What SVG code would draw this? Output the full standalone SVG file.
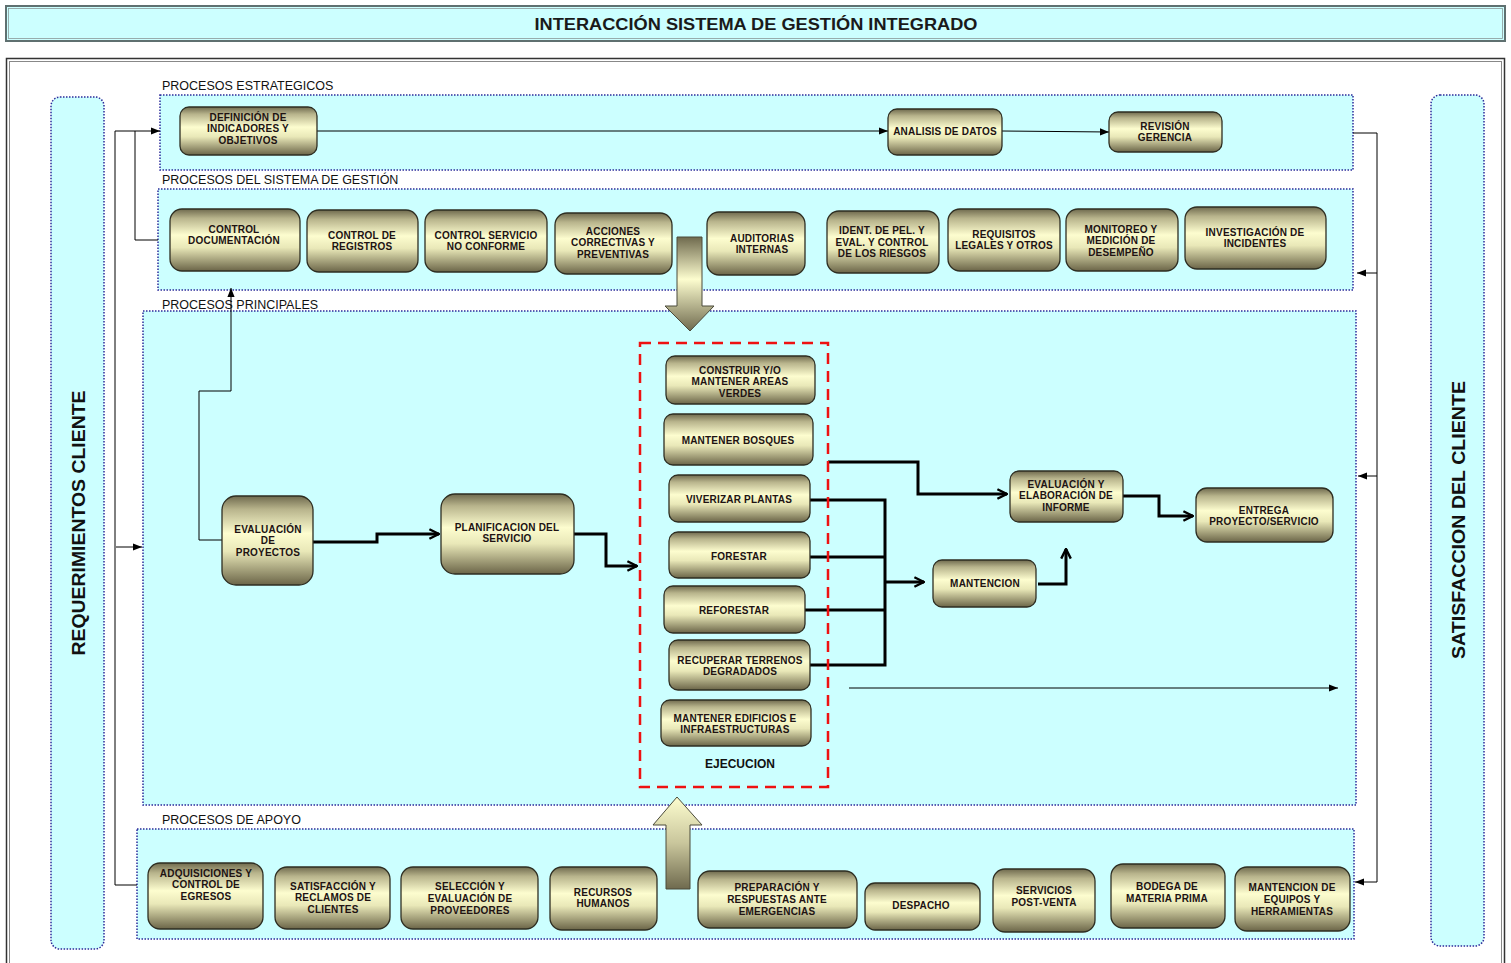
<svg xmlns="http://www.w3.org/2000/svg" width="1511" height="963" viewBox="0 0 1511 963">
<defs>
<linearGradient id="ng" x1="0" y1="0" x2="0" y2="1">
<stop offset="0" stop-color="#6f6a4e"/>
<stop offset="0.15" stop-color="#b8b48c"/>
<stop offset="0.42" stop-color="#fdfdcf"/>
<stop offset="0.62" stop-color="#e9e8b8"/>
<stop offset="1" stop-color="#6b6548"/>
</linearGradient>
<linearGradient id="ag" x1="0" y1="0" x2="0" y2="1">
<stop offset="0" stop-color="#6f6a4e"/>
<stop offset="0.45" stop-color="#fdfdcf"/>
<stop offset="1" stop-color="#6f6a4e"/>
</linearGradient>
<linearGradient id="ag2" x1="0" y1="0" x2="0" y2="1">
<stop offset="0" stop-color="#fdfdcf"/>
<stop offset="0.5" stop-color="#c9c69c"/>
<stop offset="1" stop-color="#6f6a4e"/>
</linearGradient>
<marker id="chev" viewBox="0 0 10 10" refX="9" refY="5" markerWidth="4" markerHeight="4" markerUnits="strokeWidth" orient="auto">
<path d="M1,1 L9,5 L1,9" fill="none" stroke="#000" stroke-width="2"/>
</marker>
<marker id="tri" viewBox="0 0 10 10" refX="10" refY="5" markerWidth="9" markerHeight="9" markerUnits="userSpaceOnUse" orient="auto">
<path d="M0,1 L10,5 L0,9 Z" fill="#000"/>
</marker>
</defs>
<style>
.panel{fill:#ccffff;stroke:#2b2b9a;stroke-width:1.5;stroke-dasharray:1.5 1.5}
.node{fill:url(#ng);stroke:#2e2e22;stroke-width:1.3}
.nt{font-family:"Liberation Sans",Arial,sans-serif;font-size:10px;font-weight:bold;fill:#201212;text-anchor:middle;letter-spacing:0.2px}
.sec{font-family:"Liberation Sans",Arial,sans-serif;font-size:12.5px;fill:#111}
.thick{fill:none;stroke:#000;stroke-width:3;marker-end:url(#chev)}
.thin{fill:none;stroke:#000;stroke-width:1}
.thinA{fill:none;stroke:#000;stroke-width:1;marker-end:url(#tri)}
</style>
<rect width="1511" height="963" fill="#ffffff"/>
<!-- title -->
<g id="title">
<rect x="6" y="6" width="1499" height="35" fill="#ccffff" stroke="#5f7070" stroke-width="2"/>
<rect x="8.5" y="8.5" width="1494" height="30" fill="none" stroke="#8a9a9a" stroke-width="0.8"/>
<text x="756" y="30" font-family="Liberation Sans, Arial, sans-serif" font-size="16.5" font-weight="bold" text-anchor="middle" fill="#1a1a1a" textLength="443" lengthAdjust="spacingAndGlyphs">INTERACCIÓN SISTEMA DE GESTIÓN INTEGRADO</text>
</g>
<!-- outer frame -->
<rect x="6.5" y="58.5" width="1498" height="920" fill="none" stroke="#333" stroke-width="1.5"/>
<rect x="9.5" y="61.5" width="1492" height="920" fill="none" stroke="#888" stroke-width="1"/>
<!-- pillars -->
<g id="req-cliente">
<rect class="panel" x="51" y="97" width="53" height="852" rx="9"/>
<text transform="translate(85,523) rotate(-90)" font-family="Liberation Sans, Arial, sans-serif" font-size="18" font-weight="bold" text-anchor="middle" fill="#111" textLength="265" lengthAdjust="spacingAndGlyphs">REQUERIMIENTOS CLIENTE</text>
</g>
<g id="sat-cliente">
<rect class="panel" x="1431" y="95" width="53" height="851" rx="9"/>
<text transform="translate(1465,520) rotate(-90)" font-family="Liberation Sans, Arial, sans-serif" font-size="18" font-weight="bold" text-anchor="middle" fill="#111" textLength="278" lengthAdjust="spacingAndGlyphs">SATISFACCION DEL CLIENTE</text>
</g>
<!-- panels -->
<g id="p-estrategicos">
<rect class="panel" x="160" y="95" width="1193" height="75"/>
<text class="sec" x="162" y="90">PROCESOS ESTRATEGICOS</text>
</g>
<g id="p-sg">
<rect class="panel" x="158" y="189" width="1195" height="101"/>
<text class="sec" x="162" y="184">PROCESOS DEL SISTEMA DE GESTIÓN</text>
</g>
<g id="p-principales">
<rect class="panel" x="143" y="311" width="1213" height="494"/>
<text class="sec" x="162" y="309">PROCESOS PRINCIPALES</text>
</g>
<g id="p-apoyo">
<rect class="panel" x="137" y="829" width="1217" height="110"/>
<text class="sec" x="162" y="824">PROCESOS DE APOYO</text>
</g>
<!-- big arrows -->
<g id="arrow-down">
<path d="M677,237 H702 V306 H714 L690,331 L665,306 H677 Z" fill="url(#ag)" stroke="#4a4a3a" stroke-width="1"/>
</g>
<g id="arrow-up">
<path d="M666,889 H690 V825 H702 L677,797 L653,825 H666 Z" fill="url(#ag2)" stroke="#4a4a3a" stroke-width="1"/>
</g>
<!-- connectors -->
<g id="connectors">
<line class="thinA" x1="317" y1="131" x2="888" y2="131" stroke="#4a6a6a"/>
<line class="thinA" x1="1002" y1="131" x2="1109" y2="132"/>
<path class="thinA" d="M115,885 V131 H160"/>
<path class="thin" d="M115,885 H137"/>
<path class="thin" d="M135,131 V240 H158"/>
<line class="thinA" x1="116" y1="547" x2="142" y2="547"/>
<path class="thin" d="M1353,133 H1377 V882" stroke="#555" stroke-width="1.5"/>
<line class="thinA" x1="1377" y1="882" x2="1355" y2="882"/>
<line class="thinA" x1="1377" y1="273" x2="1357" y2="273"/>
<line class="thinA" x1="1377" y1="476" x2="1358" y2="476"/>
<path class="thinA" d="M222,540 H199 V391 H231 V288"/>
<line class="thinA" x1="849" y1="688" x2="1338" y2="688"/>
<path class="thick" d="M313,542 H377 V534 H439"/>
<path class="thick" d="M574,534 H606 V566 H637"/>
<path class="thick" d="M828,462 H918 V494 H1007"/>
<path fill="none" stroke="#000" stroke-width="3" d="M810,500 H885 V665 H810 M810,557 H885 M805,610 H885"/>
<path class="thick" d="M885,582 H924"/>
<path class="thick" d="M1038,584 H1066 V549"/>
<path class="thick" d="M1123,496 H1159 V516 H1193"/>
</g>
<!-- ejecucion box -->
<g id="ejecucion">
<rect x="640" y="343" width="188" height="444" fill="none" stroke="#ee1111" stroke-width="2.5" stroke-dasharray="11 7"/>
<text x="740" y="768" font-family="Liberation Sans, Arial, sans-serif" font-size="12" font-weight="bold" text-anchor="middle" fill="#111">EJECUCION</text>
</g>
<!-- strategic nodes -->
<g id="n-definicion"><rect class="node" x="180" y="107" width="137" height="48" rx="9"/><text class="nt" x="248" y="121">DEFINICIÓN DE</text><text class="nt" x="248" y="132">INDICADORES Y</text><text class="nt" x="248" y="144">OBJETIVOS</text></g>
<g id="n-analisis"><rect class="node" x="888" y="109" width="114" height="46" rx="9"/><text class="nt" x="945" y="135">ANALISIS DE DATOS</text></g>
<g id="n-revision"><rect class="node" x="1109" y="112" width="113" height="40" rx="9"/><text class="nt" x="1165" y="130">REVISIÓN</text><text class="nt" x="1165" y="141">GERENCIA</text></g>
<!-- SG nodes -->
<g id="n-ctrl-doc"><rect class="node" x="170" y="209" width="130" height="62" rx="12"/><text class="nt" x="234" y="233">CONTROL</text><text class="nt" x="234" y="244">DOCUMENTACIÓN</text></g>
<g id="n-ctrl-reg"><rect class="node" x="307" y="210" width="111" height="62" rx="12"/><text class="nt" x="362" y="239">CONTROL DE</text><text class="nt" x="362" y="250">REGISTROS</text></g>
<g id="n-ctrl-serv"><rect class="node" x="425" y="210" width="122" height="62" rx="12"/><text class="nt" x="486" y="239">CONTROL SERVICIO</text><text class="nt" x="486" y="250">NO CONFORME</text></g>
<g id="n-acciones"><rect class="node" x="555" y="213" width="117" height="61" rx="12"/><text class="nt" x="613" y="235">ACCIONES</text><text class="nt" x="613" y="246">CORRECTIVAS Y</text><text class="nt" x="613" y="258">PREVENTIVAS</text></g>
<g id="n-auditorias"><rect class="node" x="707" y="212" width="98" height="63" rx="12"/><text class="nt" x="762" y="242">AUDITORIAS</text><text class="nt" x="762" y="253">INTERNAS</text></g>
<g id="n-ident"><rect class="node" x="827" y="211" width="112" height="62" rx="12"/><text class="nt" x="882" y="234">IDENT. DE PEL. Y</text><text class="nt" x="882" y="246">EVAL. Y CONTROL</text><text class="nt" x="882" y="257">DE LOS RIESGOS</text></g>
<g id="n-requisitos"><rect class="node" x="948" y="209" width="112" height="62" rx="12"/><text class="nt" x="1004" y="238">REQUISITOS</text><text class="nt" x="1004" y="249">LEGALES Y OTROS</text></g>
<g id="n-monitoreo"><rect class="node" x="1066" y="209" width="112" height="62" rx="12"/><text class="nt" x="1121" y="233">MONITOREO Y</text><text class="nt" x="1121" y="244">MEDICIÓN DE</text><text class="nt" x="1121" y="256">DESEMPEÑO</text></g>
<g id="n-investigacion"><rect class="node" x="1185" y="207" width="141" height="62" rx="12"/><text class="nt" x="1255" y="236">INVESTIGACIÓN DE</text><text class="nt" x="1255" y="247">INCIDENTES</text></g>
<!-- principal nodes -->
<g id="n-eval-proy"><rect class="node" x="222" y="496" width="91" height="89" rx="14"/><text class="nt" x="268" y="533">EVALUACIÓN</text><text class="nt" x="268" y="544">DE</text><text class="nt" x="268" y="556">PROYECTOS</text></g>
<g id="n-planif"><rect class="node" x="441" y="494" width="133" height="80" rx="14"/><text class="nt" x="507" y="531">PLANIFICACION DEL</text><text class="nt" x="507" y="542">SERVICIO</text></g>
<g id="n-construir"><rect class="node" x="666" y="356" width="149" height="48" rx="9"/><text class="nt" x="740" y="374">CONSTRUIR Y/O</text><text class="nt" x="740" y="385">MANTENER AREAS</text><text class="nt" x="740" y="397">VERDES</text></g>
<g id="n-bosques"><rect class="node" x="664" y="414" width="149" height="51" rx="9"/><text class="nt" x="738" y="444">MANTENER  BOSQUES</text></g>
<g id="n-viverizar"><rect class="node" x="669" y="475" width="141" height="47" rx="9"/><text class="nt" x="739" y="503">VIVERIZAR PLANTAS</text></g>
<g id="n-forestar"><rect class="node" x="669" y="532" width="141" height="46" rx="9"/><text class="nt" x="739" y="560">FORESTAR</text></g>
<g id="n-reforestar"><rect class="node" x="664" y="586" width="141" height="47" rx="9"/><text class="nt" x="734" y="614">REFORESTAR</text></g>
<g id="n-recuperar"><rect class="node" x="669" y="640" width="141" height="50" rx="9"/><text class="nt" x="740" y="664">RECUPERAR TERRENOS</text><text class="nt" x="740" y="675">DEGRADADOS</text></g>
<g id="n-edificios"><rect class="node" x="661" y="700" width="150" height="46" rx="9"/><text class="nt" x="735" y="722">MANTENER EDIFICIOS E</text><text class="nt" x="735" y="733">INFRAESTRUCTURAS</text></g>
<g id="n-eval-inf"><rect class="node" x="1010" y="471" width="113" height="51" rx="9"/><text class="nt" x="1066" y="488">EVALUACIÓN Y</text><text class="nt" x="1066" y="499">ELABORACIÓN DE</text><text class="nt" x="1066" y="511">INFORME</text></g>
<g id="n-entrega"><rect class="node" x="1196" y="488" width="137" height="54" rx="11"/><text class="nt" x="1264" y="514">ENTREGA</text><text class="nt" x="1264" y="525">PROYECTO/SERVICIO</text></g>
<g id="n-mantencion"><rect class="node" x="933" y="560" width="103" height="47" rx="9"/><text class="nt" x="985" y="587">MANTENCION</text></g>
<!-- apoyo nodes -->
<g id="n-adquisiciones"><rect class="node" x="148" y="863" width="115" height="66" rx="12"/><text class="nt" x="206" y="877">ADQUISICIONES Y</text><text class="nt" x="206" y="888">CONTROL DE</text><text class="nt" x="206" y="900">EGRESOS</text></g>
<g id="n-satisfaccion"><rect class="node" x="275" y="867" width="115" height="62" rx="12"/><text class="nt" x="333" y="890">SATISFACCIÓN Y</text><text class="nt" x="333" y="901">RECLAMOS DE</text><text class="nt" x="333" y="913">CLIENTES</text></g>
<g id="n-seleccion"><rect class="node" x="401" y="867" width="137" height="62" rx="12"/><text class="nt" x="470" y="890">SELECCIÓN Y</text><text class="nt" x="470" y="902">EVALUACIÓN DE</text><text class="nt" x="470" y="914">PROVEEDORES</text></g>
<g id="n-rrhh"><rect class="node" x="550" y="867" width="107" height="63" rx="12"/><text class="nt" x="603" y="896">RECURSOS</text><text class="nt" x="603" y="907">HUMANOS</text></g>
<g id="n-preparacion"><rect class="node" x="698" y="871" width="159" height="57" rx="12"/><text class="nt" x="777" y="891">PREPARACIÓN Y</text><text class="nt" x="777" y="903">RESPUESTAS ANTE</text><text class="nt" x="777" y="915">EMERGENCIAS</text></g>
<g id="n-despacho"><rect class="node" x="865" y="883" width="115" height="47" rx="10"/><text class="nt" x="921" y="909">DESPACHO</text></g>
<g id="n-postventa"><rect class="node" x="993" y="869" width="102" height="63" rx="12"/><text class="nt" x="1044" y="894">SERVICIOS</text><text class="nt" x="1044" y="906">POST-VENTA</text></g>
<g id="n-bodega"><rect class="node" x="1111" y="864" width="114" height="64" rx="12"/><text class="nt" x="1167" y="890">BODEGA DE</text><text class="nt" x="1167" y="902">MATERIA PRIMA</text></g>
<g id="n-mant-equipos"><rect class="node" x="1235" y="867" width="115" height="64" rx="12"/><text class="nt" x="1292" y="891">MANTENCION DE</text><text class="nt" x="1292" y="903">EQUIPOS Y</text><text class="nt" x="1292" y="915">HERRAMIENTAS</text></g>
</svg>
